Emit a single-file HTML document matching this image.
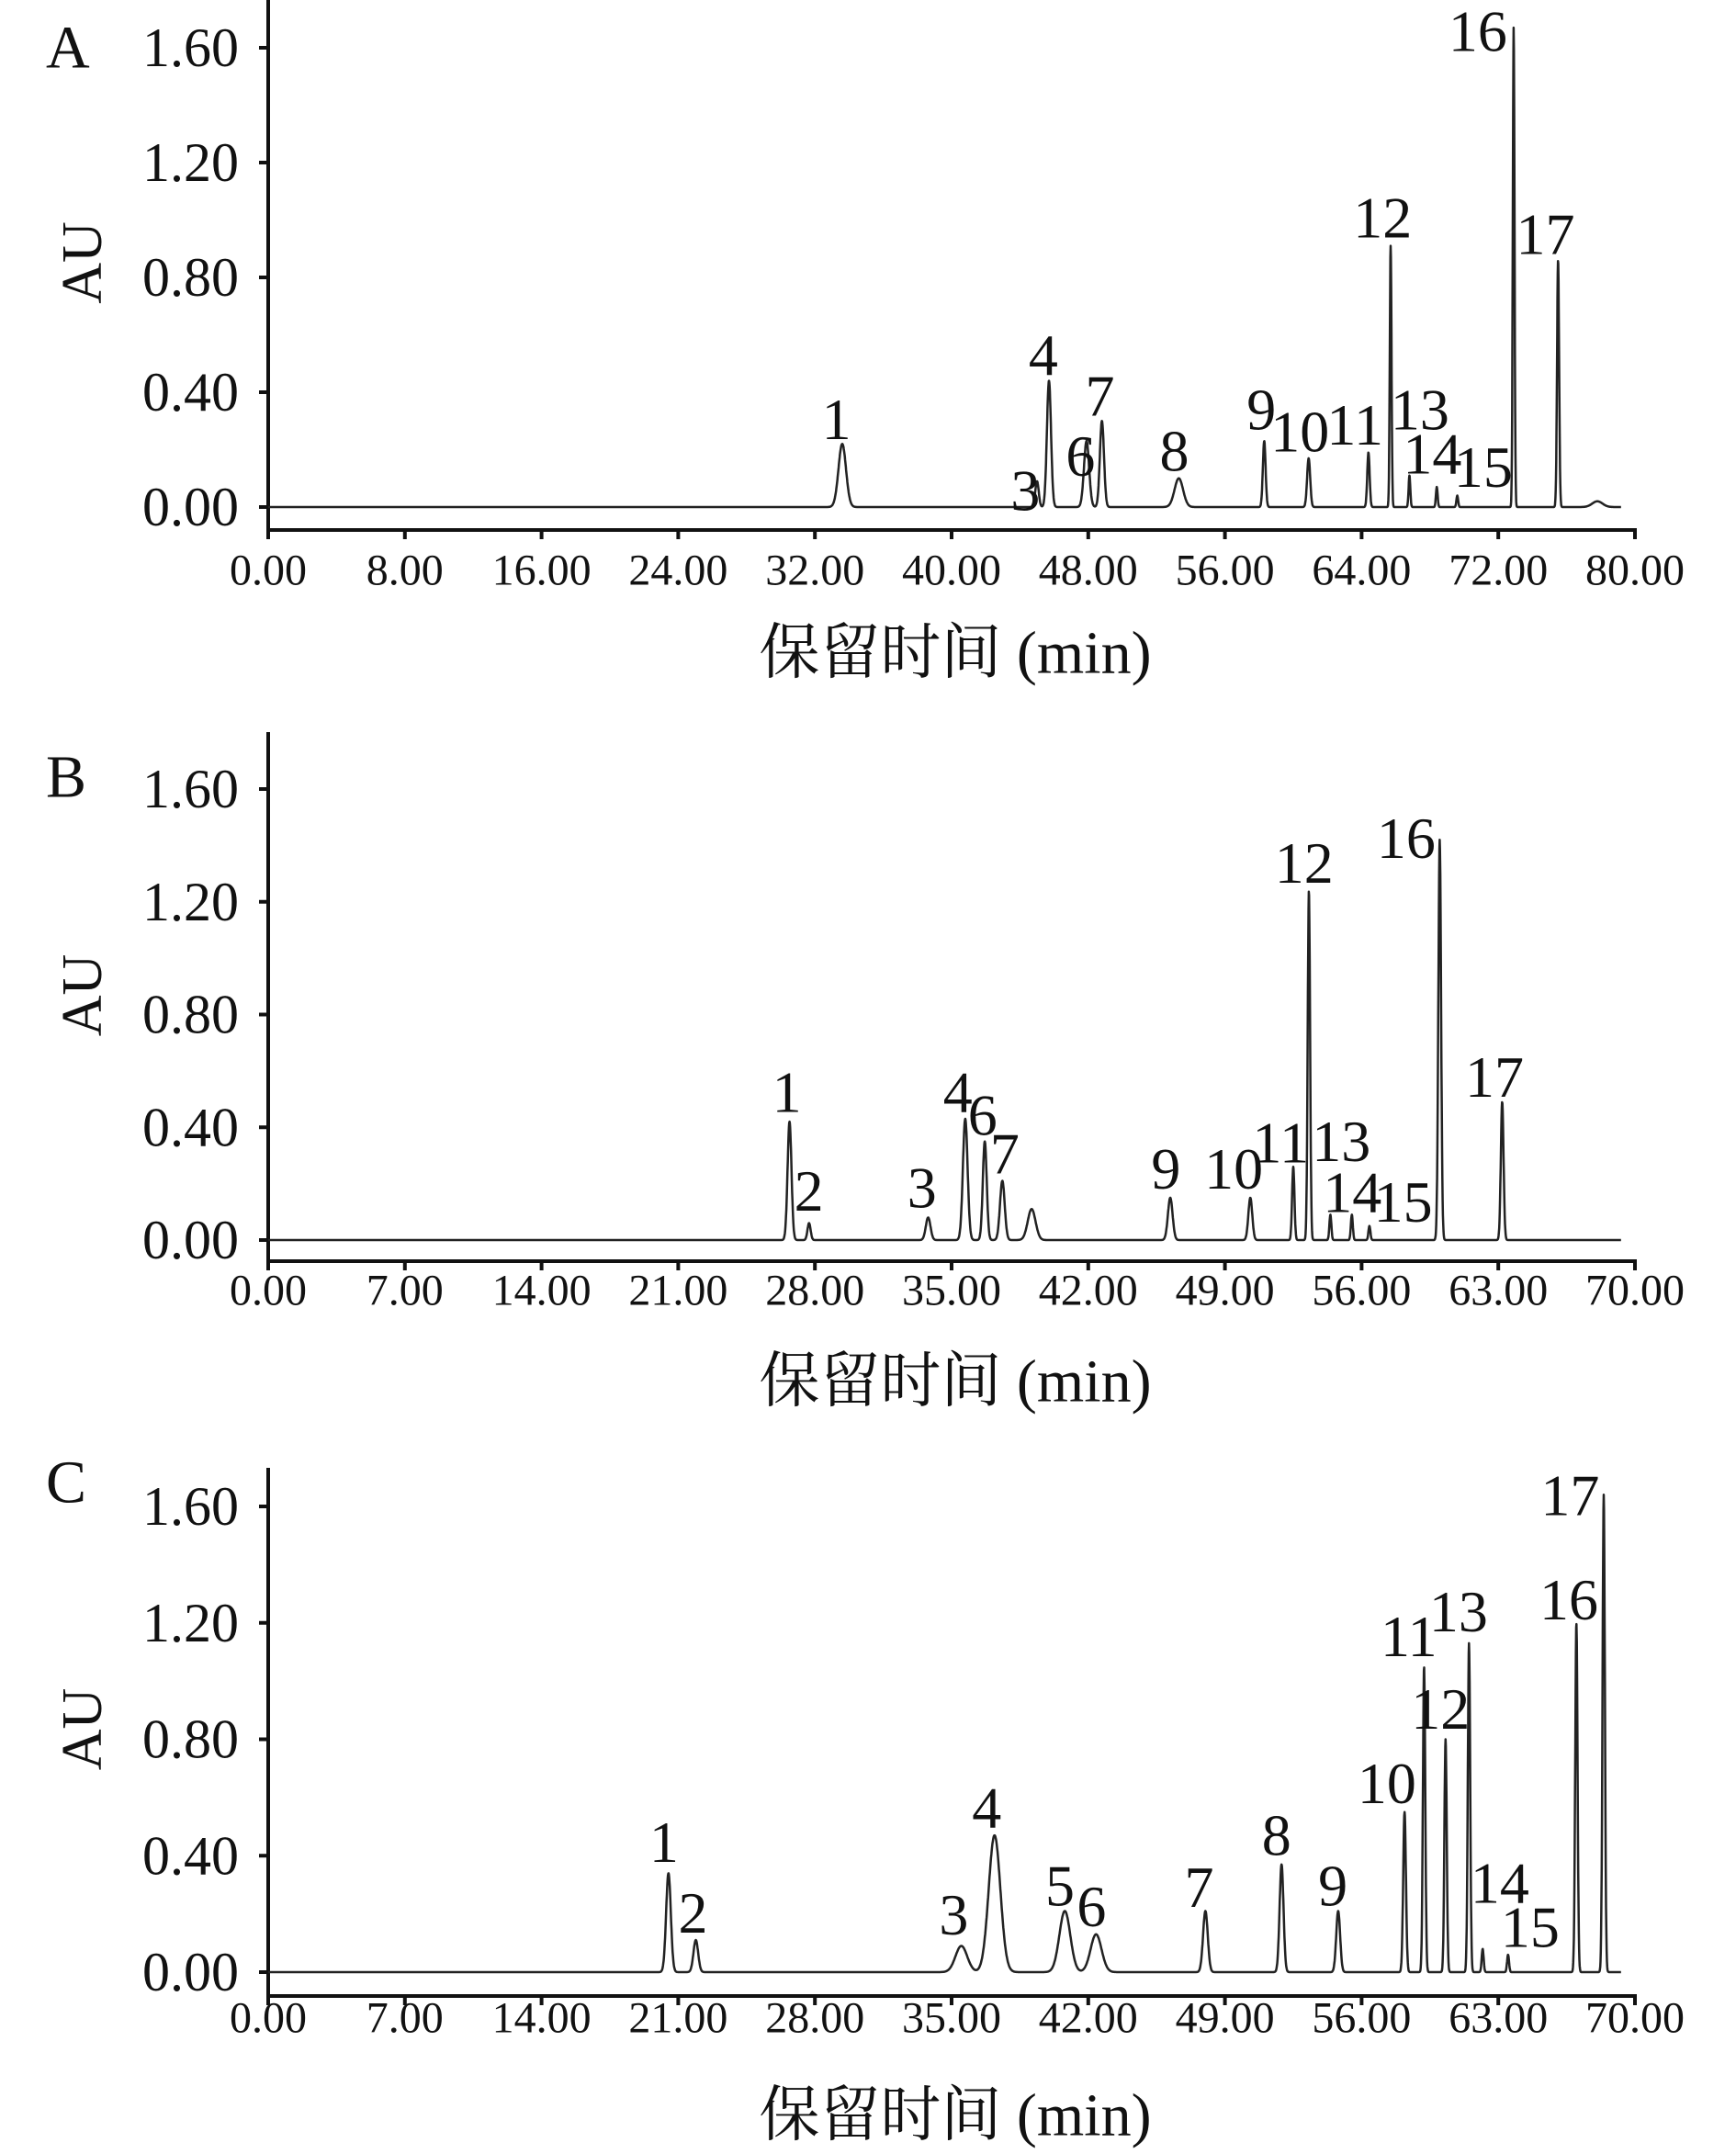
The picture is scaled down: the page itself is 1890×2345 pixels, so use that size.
<!DOCTYPE html>
<html><head><meta charset="utf-8"><style>
html,body{margin:0;padding:0;background:#fff;}
svg{display:block;}
text{font-family:"Liberation Serif","Noto Serif CJK SC",serif;fill:#111;}
</style></head><body>
<svg id="fig" width="1890" height="2345" viewBox="0 0 1890 2345"></svg>
<script>
// ---- data: panel A ----
const aTimes=[33.6,45.0,45.7,47.9,48.8,53.3,58.3,60.9,64.4,65.7,66.8,68.4,69.6,72.9,75.5,77.8];
const aHeights=[0.22,0.09,0.44,0.23,0.30,0.10,0.23,0.17,0.19,0.91,0.11,0.07,0.04,1.67,0.86,0.02];
const aSigmas=[0.22,0.1,0.12,0.15,0.12,0.25,0.08,0.09,0.07,0.05,0.05,0.05,0.05,0.05,0.06,0.3];
const aLabels=["1","3","4","6","7","8","9","10","11","12","13","14","15","16","17",""];
const aLabelT=[33.26,44.32,45.37,47.55,48.68,53.04,58.13,60.39,63.61,65.23,67.41,68.14,71.12,70.80,74.76,0];
const aLabelV=[0.306,0.057,0.530,0.177,0.387,0.196,0.339,0.263,0.287,1.008,0.339,0.186,0.139,1.657,0.950,0];
const aXTicks=["0.00","8.00","16.00","24.00","32.00","40.00","48.00","56.00","64.00","72.00","80.00"];
// ---- data: panel B ----
const bTimes=[26.7,27.7,33.8,35.7,36.7,37.6,39.1,46.2,50.3,52.5,53.3,54.4,55.5,56.4,60.0,63.2];
const bHeights=[0.42,0.06,0.08,0.43,0.35,0.21,0.11,0.15,0.15,0.26,1.24,0.09,0.09,0.05,1.42,0.49];
const bSigmas=[0.1,0.08,0.12,0.12,0.1,0.12,0.2,0.12,0.1,0.06,0.06,0.05,0.05,0.05,0.07,0.07];
const bLabels=["1","2","3","4","6","7","","9","10","11","12","13","14","15","16","17"];
const bLabelT=[26.56,27.69,33.48,35.32,36.59,37.72,0,45.98,49.45,51.85,53.05,54.96,55.52,58.13,58.28,62.80];
const bLabelV=[0.525,0.175,0.185,0.525,0.443,0.306,0,0.253,0.253,0.345,1.337,0.350,0.170,0.136,1.425,0.579];
const bcXTicks=["0.00","7.00","14.00","21.00","28.00","35.00","42.00","49.00","56.00","63.00","70.00"];
// ---- data: panel C ----
const cTimes=[20.5,21.9,35.5,37.2,40.8,42.4,48.0,51.9,54.8,58.2,59.2,60.3,61.5,62.2,63.5,67.0,68.4];
const cHeights=[0.34,0.11,0.09,0.47,0.21,0.13,0.21,0.37,0.21,0.55,1.05,0.80,1.13,0.08,0.06,1.20,1.64];
const cSigmas=[0.12,0.12,0.3,0.3,0.28,0.28,0.12,0.1,0.1,0.07,0.06,0.06,0.06,0.05,0.05,0.06,0.06];
const cLabels=["1","2","3","4","5","6","7","8","9","10","11","12","13","14","15","16","17"];
const cLabelT=[20.27,21.76,35.11,36.80,40.55,42.17,47.68,51.64,54.53,57.29,58.42,60.04,60.96,63.08,64.63,66.61,66.68];
const cLabelV=[0.447,0.203,0.198,0.565,0.296,0.226,0.292,0.471,0.296,0.649,1.153,0.904,1.238,0.306,0.155,1.280,1.638];
const yTicks=[0,0.4,0.8,1.2,1.6];
const yTickLabels=["0.00","0.40","0.80","1.20","1.60"];

const NS="http://www.w3.org/2000/svg";
const svg=document.getElementById('fig');
function mk(tag,attrs,parent){const e=document.createElementNS(NS,tag);for(const k in attrs)e.setAttribute(k,attrs[k]);(parent||svg).appendChild(e);return e;}

const panels=[
 {id:'a',letter:'A',tmax:80,times:aTimes,heights:aHeights,sigmas:aSigmas,labels:aLabels,lt:aLabelT,lv:aLabelV,xt:aXTicks,
  x0:292,x1:1780,yTop:0,y0:552,y16:52,yAxis:577,letterY:52,xLabY:621,titleY:711},
 {id:'b',letter:'B',tmax:70,times:bTimes,heights:bHeights,sigmas:bSigmas,labels:bLabels,lt:bLabelT,lv:bLabelV,xt:bcXTicks,
  x0:292,x1:1780,yTop:797,y0:1350,y16:859,yAxis:1373,letterY:846,xLabY:1405,titleY:1504},
 {id:'c',letter:'C',tmax:70,times:cTimes,heights:cHeights,sigmas:cSigmas,labels:cLabels,lt:cLabelT,lv:cLabelV,xt:bcXTicks,
  x0:292,x1:1780,yTop:1598,y0:2147,y16:1640,yAxis:2173,letterY:1614,xLabY:2197,titleY:2303}
];

panels.forEach(p=>{
  const g=mk('g',{});
  
  
  const X=t=>p.x0+(t/p.tmax)*(p.x1-p.x0);
  const Y=v=>p.y0+(v/1.6)*(p.y16-p.y0);
  const L=mk('text',{x:50,y:p.letterY,'font-size':66,'dominant-baseline':'central'},g);
  L.textContent=p.letter;
  
  
  const ay=(p.yTop+p.y0)/2+10;
  const au=mk('text',{x:90,y:ay,'font-size':62,'text-anchor':'middle','dominant-baseline':'central',transform:'rotate(-90 90 '+ay+')'},g);
  au.textContent='AU';
  
  
  const ya=mk('line',{x1:p.x0,y1:p.yTop,x2:p.x0,y2:p.yAxis+2,stroke:'#111','stroke-width':4},g);
  
  
  yTicks.forEach((v,i)=>{
    const tk=mk('line',{x1:p.x0-10,y1:Y(v),x2:p.x0,y2:Y(v),stroke:'#111','stroke-width':4},g);
    
    
    const tl=mk('text',{x:p.x0-32,y:Y(v),'font-size':60,'text-anchor':'end','dominant-baseline':'central'},g);
    tl.textContent=yTickLabels[i];
    
    
  });
  const xa=mk('line',{x1:p.x0-2,y1:p.yAxis,x2:p.x1+2,y2:p.yAxis,stroke:'#111','stroke-width':4},g);
  
  
  p.xt.forEach((s,i)=>{
    const t=i*p.tmax/(p.xt.length-1);
    const tk=mk('line',{x1:X(t),y1:p.yAxis,x2:X(t),y2:p.yAxis+10,stroke:'#111','stroke-width':4},g);
    
    
    const tl=mk('text',{x:X(t),y:p.xLabY,'font-size':48,'text-anchor':'middle','dominant-baseline':'central'},g);
    tl.textContent=s;
    
    
  });
  const xt=mk('text',{x:1040,y:p.titleY,'font-size':66,'text-anchor':'middle','dominant-baseline':'central'},g);
  xt.textContent='保留时间 (min)';
  
  
  let d='';
  const tEnd=p.tmax*0.99;
  for(let t=0;t<=tEnd;t+=0.015){
    let v=0;
    for(let k=0;k<p.times.length;k++){const z=(t-p.times[k])/p.sigmas[k];if(Math.abs(z)<6)v+=p.heights[k]*Math.exp(-0.5*z*z);}
    d+=(d?'L':'M')+X(t).toFixed(1)+' '+Y(v).toFixed(1);
  }
  const tr=mk('path',{d:d,fill:'none',stroke:'#222','stroke-width':2.5,'stroke-linejoin':'round'},g);
  
  
  p.labels.forEach((s,i)=>{
    if(!s)return;
    const pl=mk('text',{x:X(p.lt[i]),y:Y(p.lv[i]),'font-size':64,'text-anchor':'middle','dominant-baseline':'central'},g);
    pl.textContent=s;
    
    
  });
});
</script>
</body></html>
